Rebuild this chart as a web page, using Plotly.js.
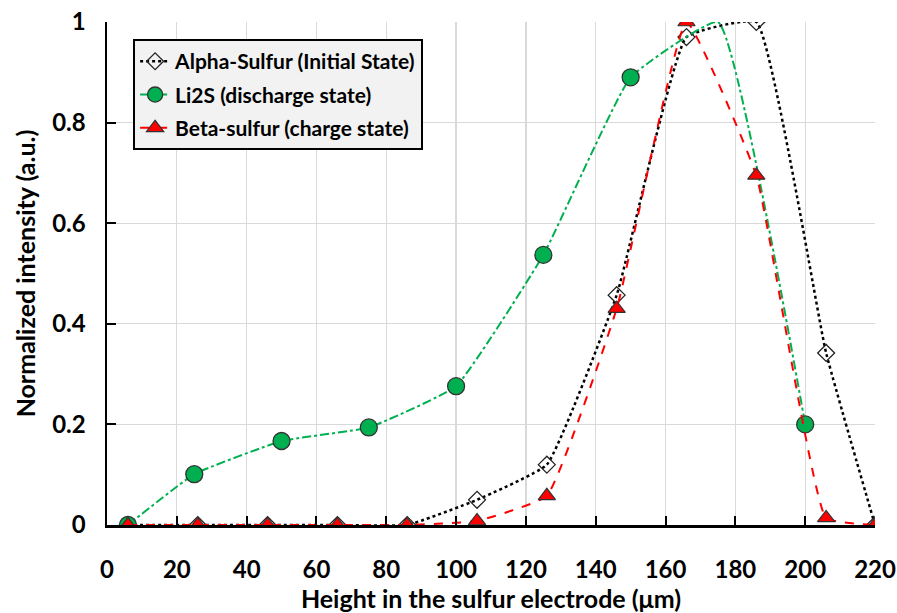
<!DOCTYPE html>
<html>
<head>
<meta charset="utf-8">
<script src="https://cdn.plot.ly/plotly-3.0.1.min.js"></script>
<style>html,body{margin:0;padding:0;background:#fff;}#chart{width:897px;height:613px;}</style>
</head>
<body>
<div id="chart"></div>
<script>
// Data
const alphaX = [6, 26, 46, 66, 86, 106, 126, 146, 166, 186, 206, 220];
const alphaY = [0, 0, 0, 0, 0, 0.05, 0.12, 0.457, 0.97, 1.0, 0.342, 0];
const li2sX = [6, 25, 50, 75, 100, 125, 150, 175, 200];
const li2sY = [0, 0.101, 0.167, 0.194, 0.276, 0.537, 0.89, 1.0, 0.20];
const li2sHiddenMarkerX = [175];
const betaX = [6, 26, 46, 66, 86, 106, 126, 146, 166, 186, 206, 220];
const betaY = [0, 0, 0, 0, 0, 0.008, 0.058, 0.43, 1.0, 0.695, 0.014, 0];
const xTicks = [0, 20, 40, 60, 80, 100, 120, 140, 160, 180, 200, 220];
const yTicks = [0, 0.2, 0.4, 0.6, 0.8, 1];
const yTickText = ['0', '0.2', '0.4', '0.6', '0.8', '1'];

const FONT = 'Lato, "Open Sans", "DejaVu Sans", sans-serif';
const SMOOTH = 0.35;

const traces = [
  {
    x: alphaX, y: alphaY, name: 'Alpha-Sulfur (Initial State)', legendgroup: 'a',
    mode: 'lines+markers', type: 'scatter',
    line: {color: '#000000', width: 2.5, dash: 'dot', shape: 'spline', smoothing: SMOOTH},
    marker: {symbol: 'diamond-open', size: 13, color: '#222222', opacity: 1, line: {width: 1.3}}
  },
  {
    x: li2sX, y: li2sY, name: 'Li2S (discharge state)', legendgroup: 'b',
    mode: 'lines+markers', type: 'scatter',
    line: {color: '#00b050', width: 2, dash: 'dashdot', shape: 'spline', smoothing: SMOOTH},
    marker: {symbol: 'circle', size: li2sX.map(v => li2sHiddenMarkerX.includes(v) ? 0 : 17),
             color: '#00b050', opacity: 1, line: {color: '#333333', width: 1.3}}
  },
  {
    x: betaX, y: betaY, name: 'Beta-sulfur (charge state)', legendgroup: 'c',
    mode: 'lines+markers', type: 'scatter',
    line: {color: '#ff0000', width: 2, dash: 'dash', shape: 'spline', smoothing: SMOOTH},
    marker: {symbol: 'triangle-up', size: 15, color: '#ff0000', opacity: 1, line: {color: '#333333', width: 1.2}}
  }
];

const layout = {
  width: 897, height: 613,
  margin: {l: 107, r: 22, t: 22, b: 88},
  paper_bgcolor: '#ffffff', plot_bgcolor: '#ffffff',
  font: {family: FONT, color: '#000000'},
  showlegend: true,
  legend: {
    x: 0.034, y: 0.966, xanchor: 'left', yanchor: 'top',
    bgcolor: '#f2f2f2', bordercolor: '#000000', borderwidth: 2,
    font: {family: FONT, size: 21, color: '#000000', weight: 'bold'},
    traceorder: 'grouped', tracegroupgap: 3, itemwidth: 30
  },
  xaxis: {
    range: [0, 220], tickvals: xTicks, ticktext: xTicks.map(String),
    showgrid: true, gridcolor: '#d9d9d9', gridwidth: 1.2,
    showline: true, linecolor: '#000000', linewidth: 2.5,
    ticks: 'inside', ticklen: 9, tickwidth: 2, tickcolor: '#000000',
    ticklabelstandoff: 22,
    zeroline: false,
    tickfont: {family: FONT, size: 24, color: '#000000', weight: 'bold'},
    title: {text: 'Height in the sulfur electrode (μm)', standoff: 10,
            font: {family: FONT, size: 25, color: '#000000', weight: 'bold'}}
  },
  yaxis: {
    range: [0, 1], tickvals: yTicks, ticktext: yTickText,
    showgrid: true, gridcolor: '#d9d9d9', gridwidth: 1.2,
    showline: true, linecolor: '#000000', linewidth: 2.5,
    ticks: 'inside', ticklen: 9, tickwidth: 2, tickcolor: '#000000',
    ticklabelstandoff: 14,
    zeroline: false,
    tickfont: {family: FONT, size: 24, color: '#000000', weight: 'bold'},
    title: {text: 'Normalized intensity (a.u.)', standoff: 10,
            font: {family: FONT, size: 25, color: '#000000', weight: 'bold'}}
  }
};

Plotly.newPlot('chart', traces, layout, {displayModeBar: false, staticPlot: true});
</script>
</body>
</html>
